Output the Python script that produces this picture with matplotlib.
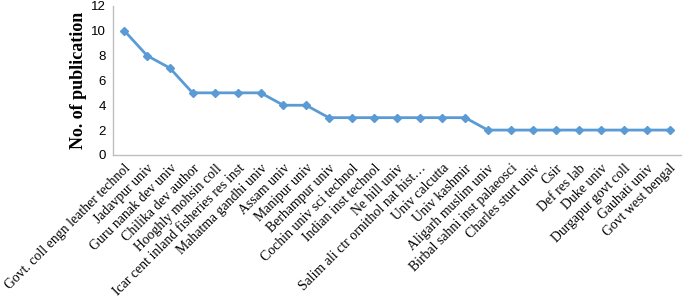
import matplotlib
matplotlib.use("Agg")
import matplotlib.pyplot as plt

institutions = [
    "Govt. coll engn leather technol", "Jadavpur univ", "Guru nanak dev univ",
    "Chilika dev author", "Hooghly mohsin coll", "Icar cent inland fisheries res inst",
    "Mahatma gandhi univ", "Assam univ", "Manipur univ", "Berhampur univ",
    "Cochin univ sci technol", "Indian inst technol", "Ne hill univ",
    "Salim ali ctr ornithol nat hist…", "Univ calcutta", "Univ kashmir",
    "Aligarh muslim univ", "Birbal sahni inst palaeosci", "Charles sturt univ",
    "Csir", "Def res lab", "Duke univ", "Durgapur govt coll", "Gauhati univ",
    "Govt west bengal",
]
publications = [10, 8, 7, 5, 5, 5, 5, 4, 4, 3, 3, 3, 3, 3, 3, 3,
                2, 2, 2, 2, 2, 2, 2, 2, 2]

fig = plt.figure(figsize=(6.85, 2.99), dpi=100)
ax = fig.add_axes([0.165, 0.482, 0.829, 0.498])

x = list(range(len(institutions)))
ax.plot(x, publications, color="#5B9BD5", lw=2, marker="D", ms=4.5,
        markeredgecolor="#5B9BD5")

ax.set_xlim(-0.5, len(institutions) - 0.5)
ax.set_ylim(0, 12)
ax.set_yticks(range(0, 13, 2))
ax.set_xticks(x)
ax.set_xticklabels(institutions, rotation=45, ha="right", va="top",
                   rotation_mode="anchor", family="Liberation Serif", fontsize=9.9)
for lab in ax.get_yticklabels():
    lab.set_family("Liberation Sans")
    lab.set_fontsize(9.5)
ax.tick_params(axis="y", length=0, pad=5)
ax.tick_params(axis="x", length=0, pad=5)
ax.set_ylabel("No. of publication", family="Liberation Serif",
              fontweight="bold", fontsize=13, labelpad=3)

for side in ["top", "right"]:
    ax.spines[side].set_visible(False)
for side in ["left", "bottom"]:
    ax.spines[side].set_color("#BFBFBF")
    ax.spines[side].set_linewidth(1)

fig.savefig("out.png", dpi=100)
